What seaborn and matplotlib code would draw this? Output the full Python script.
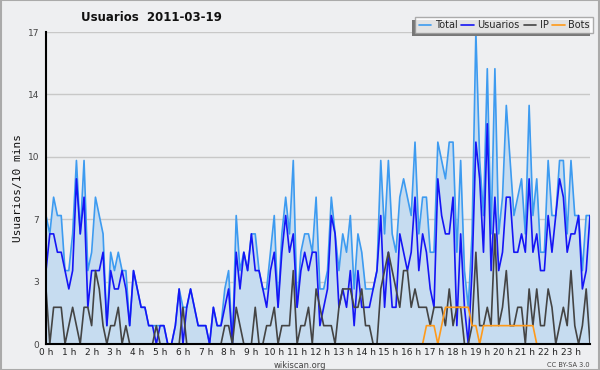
import numpy as np
import pandas as pd
import matplotlib
matplotlib.use("Agg")
import matplotlib.pyplot as plt
import seaborn as sns
from matplotlib.ticker import FixedLocator, MultipleLocator
from matplotlib.patches import Rectangle

# ---- data (one value per 10 minutes, 144 points) ----
usuarios = [4, 6, 6, 5, 5, 4, 3, 4, 9, 6, 8, 2, 4, 4, 4, 5, 1, 4, 3, 3, 4, 3, 1, 4,
            3, 2, 2, 1, 1, 0, 1, 1, 0, 0, 1, 3, 0, 2, 3, 2, 1, 1, 1, 0, 2, 1, 1, 2,
            3, 0, 5, 3, 5, 4, 6, 4, 4, 3, 2, 4, 5, 2, 5, 7, 5, 6, 2, 4, 5, 4, 5, 5,
            1, 2, 3, 7, 6, 2, 3, 2, 4, 1, 4, 2, 2, 2, 3, 4, 7, 2, 5, 2, 2, 6, 5, 4,
            5, 8, 4, 6, 5, 3, 2, 9, 7, 6, 6, 8, 1, 6, 2, 0, 4, 11, 9, 5, 12, 4, 8, 4,
            5, 8, 8, 5, 5, 6, 5, 9, 5, 6, 4, 4, 7, 5, 7, 9, 8, 5, 6, 6, 7, 3, 4, 7]
ip = [3, 0, 2, 2, 2, 0, 1, 2, 1, 0, 2, 2, 1, 4, 3, 1, 0, 1, 1, 2, 0, 1, 0, 0,
      0, 0, 0, 0, 0, 1, 0, 0, 0, 0, 0, 0, 2, 0, 0, 0, 0, 0, 0, 0, 0, 0, 0, 1,
      1, 0, 2, 1, 0, 0, 0, 2, 0, 0, 1, 1, 2, 0, 1, 1, 1, 4, 0, 1, 1, 2, 0, 3,
      2, 1, 1, 1, 0, 2, 3, 3, 3, 2, 2, 3, 1, 1, 0, 0, 3, 4, 5, 4, 3, 2, 4, 4,
      2, 3, 2, 2, 2, 1, 2, 2, 2, 1, 3, 1, 2, 2, 0, 0, 1, 5, 1, 1, 2, 1, 6, 1,
      2, 4, 1, 1, 2, 2, 0, 3, 1, 3, 1, 1, 3, 2, 0, 1, 2, 1, 4, 1, 0, 1, 3, 0]
bots = [np.nan] * 99 + [0, 1, 1, 1, 0, 1, 2, 2, 2, 2, 2, 2, 2, 1, 1, 0, 1, 1, 1, 1,
                        1, 1, 1, 1, 1, 1, 1, 1, 1, 1, 0] + [np.nan] * 14
total = [7, 6, 8, 7, 7, 4, 4, 6, 10, 6, 10, 4, 5, 8, 7, 6, 1, 5, 4, 5, 4, 4, 1, 4,
         3, 2, 2, 1, 1, 1, 1, 1, 0, 0, 1, 3, 2, 2, 3, 2, 1, 1, 1, 0, 2, 1, 1, 3,
         4, 0, 7, 4, 5, 4, 6, 6, 4, 3, 3, 5, 7, 2, 6, 8, 6, 10, 2, 5, 6, 6, 5, 8,
         3, 3, 4, 8, 6, 4, 6, 5, 7, 3, 6, 5, 3, 3, 3, 4, 10, 6, 10, 6, 5, 8, 9, 8,
         7, 11, 6, 8, 8, 5, 5, 11, 10, 9, 11, 11, 5, 10, 4, 2, 6, 17, 10, 7, 15, 6, 15, 6,
         8, 13, 10, 7, 8, 9, 6, 13, 7, 9, 5, 5, 10, 7, 7, 10, 10, 6, 10, 7, 7, 4, 7, 7]
hour_labels = [f"{h} h" for h in range(24)]
y_tick_values = [0, 3.4, 6.8, 10.2, 13.6, 17]
y_tick_labels = ["0", "3", "7", "10", "14", "17"]
series_names = ["Total", "Usuarios", "IP", "Bots"]

# ---- build frame ----
n = len(total)
df = pd.DataFrame({"slot": np.arange(n), "Total": total, "Usuarios": usuarios,
                   "IP": ip, "Bots": bots})
long = df.melt(id_vars="slot", value_vars=series_names, var_name="serie", value_name="valor")

colors = {"Total": "#3d9bf0", "Usuarios": "#1515f5", "IP": "#444444", "Bots": "#ff9a1a"}
bg = "#eeeff1"

sns.set_theme(style="white")
plt.rcParams["font.family"] = ["DejaVu Sans"]

fig = plt.figure(figsize=(6.0, 3.7), dpi=100, facecolor=bg)
ax = fig.add_axes([46 / 600, 26 / 370, 544 / 600, 312 / 370])
ax.set_facecolor(bg)

ax.fill_between(df["slot"], 0, df["Total"], color="#c6dcf0", lw=0, zorder=1)
sns.lineplot(data=long, x="slot", y="valor", hue="serie", hue_order=series_names,
             palette=colors, linewidth=1.2, ax=ax, legend=False, zorder=3)

ax.set_xlim(0, n - 1)
ax.set_ylim(0, 17)

# grid
for v in y_tick_values[1:]:
    ax.axhline(v, color="#c8c8c8", lw=1, zorder=0.5)

# spines
for s in ["top", "right"]:
    ax.spines[s].set_visible(False)
for s in ["left", "bottom"]:
    ax.spines[s].set_color("black")
    ax.spines[s].set_linewidth(1.5)
    ax.spines[s].set_zorder(5)

ax.yaxis.set_major_locator(FixedLocator(y_tick_values))
ax.set_yticklabels(y_tick_labels)
ax.yaxis.set_minor_locator(MultipleLocator(0.85))
ax.xaxis.set_major_locator(FixedLocator(list(range(0, n, 6))))
ax.set_xticklabels(hour_labels)
ax.xaxis.set_minor_locator(MultipleLocator(1))
ax.tick_params(axis="y", which="major", direction="out", length=4, width=1,
               color="black", labelsize=6.5, labelcolor="#444444", pad=1)
ax.tick_params(axis="x", which="major", direction="out", length=3, width=1,
               color="black", labelsize=6.5, labelcolor="#222222", pad=0)
ax.tick_params(axis="both", which="minor", direction="out", length=2.5, width=0.8,
               color="black")

ax.set_xlabel("")
ax.set_ylabel("Usuarios/10 mins", family="DejaVu Sans Mono", fontsize=8,
              color="#111111", labelpad=3)

fig.text(0.252, 0.952, "Usuarios  2011-03-19", ha="center", va="center",
         fontsize=8.5, fontweight="bold", color="#111111")
fig.text(0.5, 0.013, "wikiscan.org", ha="center", va="center", fontsize=6,
         color="#444444")
fig.text(0.983, 0.013, "CC BY-SA 3.0", ha="right", va="center", fontsize=4.8,
         color="#444444")

handles = [plt.Line2D([], [], color=colors[s], lw=1.2) for s in series_names]
leg = fig.legend(handles, series_names, loc="upper right",
                 bbox_to_anchor=(0.989, 0.955), ncol=4, fontsize=7,
                 frameon=True, fancybox=False, shadow=False,
                 handlelength=1.3, handletextpad=0.35, columnspacing=0.4,
                 borderpad=0.35, borderaxespad=0)
leg.get_frame().set_edgecolor("#999999")
leg.get_frame().set_facecolor("white")
leg.get_frame().set_linewidth(1)
leg.set_zorder(10)

# legend shadow (offset to the lower left)
fig.canvas.draw()
bb = leg.get_window_extent()
shadow = Rectangle((bb.x0 - 3, bb.y0 - 3), bb.width, bb.height, transform=None,
                   facecolor="#777777", edgecolor="none", zorder=9)
fig.patches.append(shadow)

# outer border
fig.patches.append(Rectangle((0.001, 0.001), 0.998, 0.998, transform=fig.transFigure,
                             fill=False, edgecolor="#aaaaaa", lw=1.5))

fig.savefig("out.png", dpi=100, facecolor=bg)
